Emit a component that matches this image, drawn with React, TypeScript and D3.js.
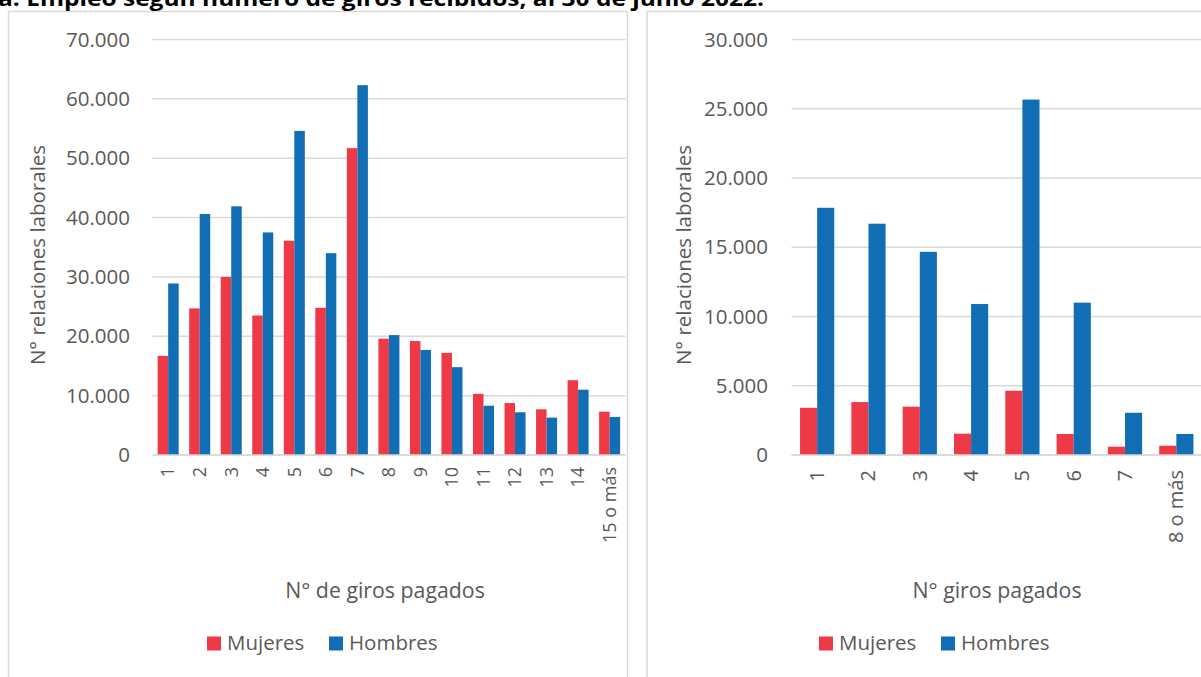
import React from "react";
import * as d3 from "d3";

// Chart data
const categoriasA = ["1", "2", "3", "4", "5", "6", "7", "8", "9", "10", "11", "12", "13", "14", "15 o más"];
const mujeresA = [16700, 24700, 30000, 23500, 36100, 24800, 51700, 19600, 19200, 17200, 10300, 8750, 7700, 12600, 7300];
const hombresA = [28900, 40600, 41900, 37500, 54600, 34000, 62300, 20200, 17700, 14800, 8300, 7200, 6300, 11000, 6400];
const ticksA = [0, 10000, 20000, 30000, 40000, 50000, 60000, 70000];

const categoriasB = ["1", "2", "3", "4", "5", "6", "7", "8 o más"];
const mujeresB = [3410, 3820, 3490, 1540, 4640, 1520, 600, 670];
const hombresB = [17850, 16700, 14670, 10900, 25660, 11000, 3050, 1520];
const ticksB = [0, 5000, 10000, 15000, 20000, 25000, 30000];

const series = ["Mujeres", "Hombres"];
const titulo = "a. Empleo según número de giros recibidos, al 30 de junio 2022.";

const ROJO = "#EE3A47";
const AZUL = "#116EB4";
const GRIS_TXT = "#595959";
const GRIS_LIN = "#D9D9D9";
const FONT = "'Open Sans', 'Noto Sans', sans-serif";

const fmt = d3
  .formatLocale({ decimal: ",", thousands: ".", grouping: [3], currency: ["$", ""] })
  .format(",");

type PanelProps = {
  boxX: number;
  boxW: number;
  x0: number;
  x1: number;
  cats: string[];
  mujeres: number[];
  hombres: number[];
  ticks: number[];
  tickX: number;
  catSize: number;
  catY: number;
  yTitleX: number;
  xTitle: string;
  xTitleX: number;
  legendX: number;
};

function Panel(p: PanelProps) {
  const yTop = 39.5;
  const yBase = 455;
  const max = p.ticks[p.ticks.length - 1];
  const y = d3.scaleLinear().domain([0, max]).range([yBase, yTop]);
  const x = d3
    .scaleBand<string>()
    .domain(p.cats)
    .range([p.x0, p.x1])
    .paddingInner(1 / 3)
    .paddingOuter(1 / 6);
  const xs = d3.scaleBand<string>().domain(series).range([0, x.bandwidth()]);
  const colors = d3.scaleOrdinal<string, string>().domain(series).range([ROJO, AZUL]);
  const rows = p.cats.map((c, i) => ({ cat: c, vals: [p.mujeres[i], p.hombres[i]] }));

  return (
    <g>
      <rect x={p.boxX} y={11.5} width={p.boxW} height={720} fill="#fff" stroke={GRIS_LIN} strokeWidth={1.5} />
      {p.ticks.map((t) => (
        <g key={t}>
          <line x1={p.x0} x2={p.x1} y1={y(t)} y2={y(t)} stroke={GRIS_LIN} strokeWidth={1.5} />
          <text
            x={p.tickX}
            y={y(t)}
            dy="0.35em"
            textAnchor="end"
            fontSize={20.5}
            fill={GRIS_TXT}
            fontFamily={FONT}
          >
            {fmt(t)}
          </text>
        </g>
      ))}
      {rows.map((r) => (
        <g key={r.cat} transform={`translate(${x(r.cat)},0)`}>
          {series.map((s, j) => (
            <rect
              key={s}
              x={xs(s)}
              y={y(r.vals[j])}
              width={xs.bandwidth()}
              height={yBase - y(r.vals[j])}
              fill={colors(s)}
            />
          ))}
        </g>
      ))}
      <line x1={p.x0} x2={p.x1} y1={yBase} y2={yBase} stroke={GRIS_LIN} strokeWidth={1.5} />
      {p.cats.map((c) => {
        const cx = (x(c) as number) + x.bandwidth() / 2;
        return (
          <text
            key={c}
            transform={`translate(${cx},${p.catY}) rotate(-90)`}
            dy="0.35em"
            textAnchor="end"
            fontSize={p.catSize}
            fill={GRIS_TXT}
            fontFamily={FONT}
          >
            {c}
          </text>
        );
      })}
      <text
        transform={`translate(${p.yTitleX},255) rotate(-90)`}
        dy="0.35em"
        textAnchor="middle"
        fontSize={20.5}
        fill={GRIS_TXT}
        fontFamily={FONT}
      >
        N° relaciones laborales
      </text>
      <text x={p.xTitleX} y={598} textAnchor="middle" fontSize={21.3} fill={GRIS_TXT} fontFamily={FONT}>
        {p.xTitle}
      </text>
      {series.map((s, j) => (
        <g key={s} transform={`translate(${p.legendX + j * 122},0)`}>
          <rect x={0} y={636.5} width={14} height={14} fill={colors(s)} />
          <text x={20} y={650} fontSize={20.5} fill={GRIS_TXT} fontFamily={FONT}>
            {s}
          </text>
        </g>
      ))}
    </g>
  );
}

export default function App() {
  return (
    <svg
      width={1201}
      height={677}
      style={{ position: "absolute", left: 0, top: 0, background: "#fff" }}
    >
      <rect width={1201} height={677} fill="#fff" />
      <Panel
        boxX={8.5}
        boxW={619}
        x0={152.4}
        x1={625.4}
        cats={categoriasA}
        mujeres={mujeresA}
        hombres={hombresA}
        ticks={ticksA}
        tickX={130}
        catSize={18}
        catY={467}
        yTitleX={38}
        xTitle="N° de giros pagados"
        xTitleX={385}
        legendX={207}
      />
      <Panel
        boxX={647}
        boxW={600}
        x0={791.5}
        x1={1202}
        cats={categoriasB}
        mujeres={mujeresB}
        hombres={hombresB}
        ticks={ticksB}
        tickX={768}
        catSize={20}
        catY={470}
        yTitleX={684}
        xTitle="N° giros pagados"
        xTitleX={997}
        legendX={819}
      />
      <text
        x={-2}
        y={6}
        fontSize={21}
        fontWeight="bold"
        fill="#000"
        fontFamily={FONT}
        textLength={766}
        lengthAdjust="spacingAndGlyphs"
      >
        {titulo}
      </text>
    </svg>
  );
}
